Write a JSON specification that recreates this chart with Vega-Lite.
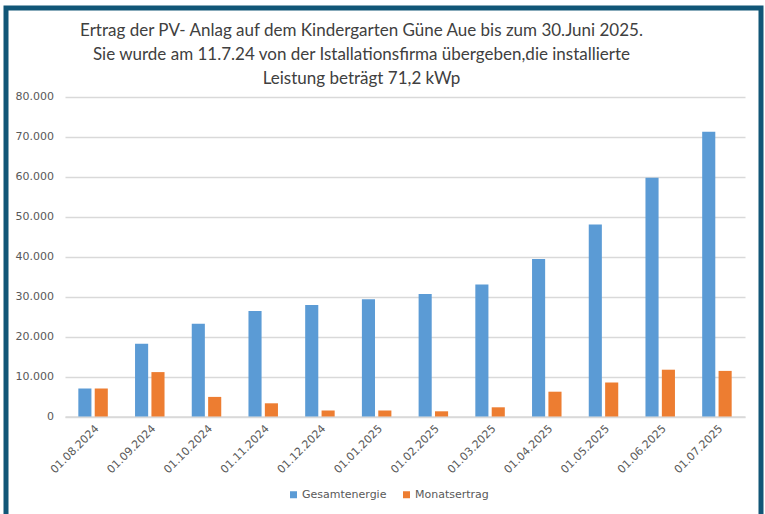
{
  "$schema": "https://vega.github.io/schema/vega-lite/v6.json",
  "width": 755,
  "height": 506,
  "autosize": {"type": "none"},
  "padding": {"left": 6, "top": 8, "right": 4, "bottom": 0},
  "background": "white",
  "config": {
    "view": {"stroke": "#115677", "strokeWidth": 5, "strokeDash": [1261, 755, 506, 2000]},
    "font": "DejaVu Sans"
  },
  "title": {
    "text": [
      "Ertrag der PV- Anlag auf dem Kindergarten Güne Aue bis zum 30.Juni 2025.",
      "Sie wurde am 11.7.24 von der Istallationsfirma übergeben,die installierte",
      "Leistung beträgt 71,2 kWp"
    ],
    "font": "Lato",
    "fontSize": 17,
    "fontWeight": "normal",
    "color": "#404040",
    "anchor": "middle",
    "frame": "group",
    "baseline": "top",
    "offset": -80,
    "lineHeight": 24,
    "dx": -22
  },
  "data": {
    "values": [
      {"date": "01.08.2024", "series": "Gesamtenergie", "value": 7000},
      {"date": "01.08.2024", "series": "Monatsertrag", "value": 7000},
      {"date": "01.09.2024", "series": "Gesamtenergie", "value": 18200},
      {"date": "01.09.2024", "series": "Monatsertrag", "value": 11100},
      {"date": "01.10.2024", "series": "Gesamtenergie", "value": 23200},
      {"date": "01.10.2024", "series": "Monatsertrag", "value": 4900},
      {"date": "01.11.2024", "series": "Gesamtenergie", "value": 26400},
      {"date": "01.11.2024", "series": "Monatsertrag", "value": 3300},
      {"date": "01.12.2024", "series": "Gesamtenergie", "value": 27900},
      {"date": "01.12.2024", "series": "Monatsertrag", "value": 1500},
      {"date": "01.01.2025", "series": "Gesamtenergie", "value": 29300},
      {"date": "01.01.2025", "series": "Monatsertrag", "value": 1500},
      {"date": "01.02.2025", "series": "Gesamtenergie", "value": 30600},
      {"date": "01.02.2025", "series": "Monatsertrag", "value": 1300},
      {"date": "01.03.2025", "series": "Gesamtenergie", "value": 33000},
      {"date": "01.03.2025", "series": "Monatsertrag", "value": 2300},
      {"date": "01.04.2025", "series": "Gesamtenergie", "value": 39400},
      {"date": "01.04.2025", "series": "Monatsertrag", "value": 6200},
      {"date": "01.05.2025", "series": "Gesamtenergie", "value": 48000},
      {"date": "01.05.2025", "series": "Monatsertrag", "value": 8500},
      {"date": "01.06.2025", "series": "Gesamtenergie", "value": 59700},
      {"date": "01.06.2025", "series": "Monatsertrag", "value": 11700},
      {"date": "01.07.2025", "series": "Gesamtenergie", "value": 71200},
      {"date": "01.07.2025", "series": "Monatsertrag", "value": 11400}
    ]
  },
  "mark": {"type": "bar"},
  "encoding": {
    "x": {
      "field": "date",
      "type": "nominal",
      "sort": null,
      "scale": {"range": [59, 739], "paddingInner": 0.48, "paddingOuter": 0.235},
      "axis": {
        "orient": "bottom",
        "offset": -97.5,
        "title": null,
        "ticks": false,
        "grid": false,
        "domainColor": "#d9d9d9",
        "domainWidth": 1.5,
        "labelAngle": -45,
        "labelPadding": 6,
        "labelFont": "DejaVu Sans",
        "labelFontSize": 11,
        "labelColor": "#595959"
      }
    },
    "xOffset": {
      "field": "series",
      "type": "nominal",
      "sort": ["Gesamtenergie", "Monatsertrag"],
      "scale": {"paddingInner": 0.2}
    },
    "y": {
      "field": "value",
      "type": "quantitative",
      "scale": {"domain": [0, 80000], "range": [408.5, 88.5], "nice": false},
      "axis": {
        "orient": "left",
        "offset": -51.5,
        "title": null,
        "ticks": false,
        "domain": false,
        "values": [0, 10000, 20000, 30000, 40000, 50000, 60000, 70000, 80000],
        "labelExpr": "replace(format(datum.value, ','), ',', '.')",
        "labelPadding": 4,
        "labelFont": "DejaVu Sans",
        "labelFontSize": 11,
        "labelColor": "#595959",
        "gridColor": "#d9d9d9",
        "gridWidth": 1.5
      }
    },
    "color": {
      "field": "series",
      "type": "nominal",
      "scale": {"domain": ["Gesamtenergie", "Monatsertrag"], "range": ["#5b9bd5", "#ed7d31"]},
      "legend": {
        "orient": "none",
        "legendX": 282,
        "legendY": 481,
        "direction": "horizontal",
        "title": null,
        "symbolType": "square",
        "symbolSize": 49,
        "symbolStrokeWidth": 0,
        "labelFont": "DejaVu Sans",
        "labelFontSize": 11,
        "labelColor": "#595959",
        "labelOffset": 3,
        "columnPadding": 14
      }
    }
  }
}
